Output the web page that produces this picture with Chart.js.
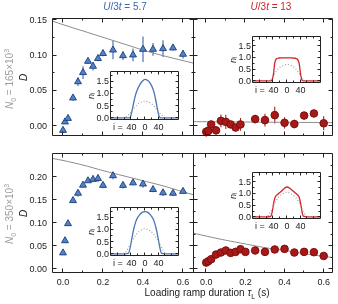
<!DOCTYPE html>
<html>
<head>
<meta charset="utf-8">
<script src="https://cdn.jsdelivr.net/npm/chart.js@4.4.0/dist/chart.umd.min.js"></script>
<style>
body { margin: 0; width: 338px; height: 304px; position: relative; overflow: hidden; background: #fff;
       font-family: "Liberation Sans", Arial, sans-serif; }
canvas { position: absolute; left: 0; top: 0; }
.lbl { position: absolute; white-space: nowrap; font-size: 10px; line-height: 10px; z-index: 5; }
.rot { transform: translate(-50%, -50%) rotate(-90deg); color: #9d9d9d; }
.ctr { transform: translate(-50%, -50%); }
sub, sup { font-size: 7px; line-height: 0; }
</style>
</head>
<body>
<div class="lbl ctr" style="left:125px; top:7px; color:#3b67b0"><i>U</i>/3<i>t</i> = 5.7</div>
<div class="lbl ctr" style="left:271px; top:7px; color:#c8262b"><i>U</i>/3<i>t</i> = 13</div>
<div class="lbl rot" style="left:10px; top:79px"><i>N</i><sub>0</sub> = 165×10<sup>3</sup></div>
<div class="lbl rot" style="left:10px; top:214px"><i>N</i><sub>0</sub> = 350×10<sup>3</sup></div>
<div class="lbl ctr" style="left:207px; top:293px; color:#222">Loading ramp duration <i>τ</i><sub>L</sub> (s)</div>
<script>
// ramp durations (s)
var tauA = [0, 0.01, 0.025, 0.05, 0.075, 0.1, 0.125, 0.15, 0.175, 0.2, 0.25, 0.3, 0.35, 0.4, 0.45, 0.5, 0.55, 0.6];
var tauB = [0, 0.01, 0.025, 0.05, 0.075, 0.1, 0.125, 0.15, 0.175, 0.25, 0.3, 0.35, 0.4, 0.45, 0.5, 0.55, 0.6];

// D, N0 = 165e3
var dLow57 = [-0.006, 0.006, 0.011, 0.040, 0.063, 0.076, 0.092, 0.085, 0.096, 0.103, 0.108, 0.100, 0.101, 0.109, 0.109, 0.110, 0.111, 0.102];
var errLow57 = [0.003, 0.003, 0.003, 0.004, 0.006, 0.009, 0.004, 0.006, 0.004, 0.004, 0.013, 0.006, 0.009, 0.018, 0.009, 0.012, 0.004, 0.006];
var dLow13 = [-0.008, -0.007, 0.0024, -0.006, 0.0075, 0.006, 0.0024, -0.002, 0.0024, 0.010, 0.0085, 0.0156, 0.0047, 0.003, 0.015, 0.018, 0.004];
var errLow13 = [0.007, 0.005, 0.004, 0.006, 0.009, 0.010, 0.004, 0.005, 0.009, 0.006, 0.009, 0.012, 0.008, 0.006, 0.005, 0.004, 0.010];

// D, N0 = 350e3
var dHigh57 = [0.0356, 0.062, 0.099, 0.149, 0.165, 0.1825, 0.192, 0.195, 0.197, 0.182, 0.203, 0.182, 0.1875, 0.185, 0.173, 0.166, 0.165, 0.169];
var errHigh57 = [0.004, 0.005, 0.004, 0.004, 0.007, 0.005, 0.005, 0.006, 0.008, 0.006, 0.008, 0.007, 0.005, 0.008, 0.006, 0.007, 0.006, 0.005];
var dHigh13 = [0.0146, 0.0174, 0.0218, 0.032, 0.0364, 0.0408, 0.0356, 0.0378, 0.0436, 0.0378, 0.0408, 0.0378, 0.043, 0.0443, 0.0364, 0.0378, 0.0371, 0.029];
var errHigh13 = [0.004, 0.003, 0.003, 0.003, 0.003, 0.003, 0.004, 0.003, 0.003, 0.003, 0.003, 0.007, 0.003, 0.003, 0.003, 0.003, 0.003, 0.003];

// theory curves (grey)
var fitTau = [-0.1, 0, 0.1, 0.2, 0.3, 0.4, 0.5, 0.6, 0.7];
var fitLow57 = [0.1535, 0.144, 0.135, 0.126, 0.117, 0.108, 0.100, 0.093, 0.086];
var fitLow13 = [0.0065, 0.0062, 0.0060, 0.0058, 0.0056, 0.0054, 0.0052, 0.0050, 0.0048];
var fitHigh57 = [0.244, 0.236, 0.226, 0.214, 0.203, 0.192, 0.181, 0.168, 0.156];
var fitHigh13 = [0.082, 0.072, 0.063, 0.055, 0.047, 0.041, 0.034, 0.028, 0.023];

// inset density profiles n_i vs site i
var site = [-100, -60, -48, -44, -40, -36, -32, -28, -24, -16, -8, 0, 8, 16, 24, 28, 32, 36, 40, 44, 48, 60, 100];
var nLow57 = [0.02, 0.02, 0.02, 0.03, 0.2, 0.45, 0.72, 0.95, 1.12, 1.36, 1.52, 1.6, 1.55, 1.42, 1.18, 0.98, 0.72, 0.42, 0.15, 0.03, 0.02, 0.02, 0.02];
var nLow57dot = [0, 0.03, 0.15, 0.2, 0.27, 0.34, 0.41, 0.48, 0.54, 0.63, 0.68, 0.7, 0.68, 0.63, 0.54, 0.48, 0.41, 0.34, 0.27, 0.2, 0.15, 0.03, 0];
var nLow13 = [0.02, 0.02, 0.02, 0.05, 0.3, 0.78, 0.95, 0.99, 1.0, 1.01, 1.01, 1.01, 1.01, 1.0, 0.99, 0.97, 0.92, 0.75, 0.3, 0.06, 0.02, 0.02, 0.02];
var nLow13dot = [0, 0.01, 0.08, 0.15, 0.24, 0.33, 0.42, 0.5, 0.56, 0.65, 0.7, 0.72, 0.7, 0.65, 0.56, 0.5, 0.42, 0.33, 0.24, 0.15, 0.08, 0.01, 0];
var nHigh57 = [0.02, 0.02, 0.05, 0.25, 0.55, 0.85, 1.1, 1.3, 1.45, 1.62, 1.72, 1.75, 1.72, 1.62, 1.45, 1.3, 1.1, 0.85, 0.55, 0.25, 0.05, 0.02, 0.02];
var nHigh57dot = [0, 0.05, 0.3, 0.4, 0.5, 0.6, 0.7, 0.78, 0.85, 0.95, 1.02, 1.05, 1.02, 0.95, 0.85, 0.78, 0.7, 0.6, 0.5, 0.4, 0.3, 0.05, 0];
var nHigh13 = [0.02, 0.02, 0.04, 0.2, 0.55, 0.82, 0.93, 0.98, 1.03, 1.13, 1.24, 1.3, 1.25, 1.15, 1.05, 1.0, 0.95, 0.85, 0.6, 0.25, 0.05, 0.02, 0.02];
var nHigh13dot = [0, 0.04, 0.25, 0.38, 0.5, 0.62, 0.72, 0.8, 0.87, 0.97, 1.04, 1.08, 1.04, 0.97, 0.87, 0.8, 0.72, 0.62, 0.5, 0.38, 0.25, 0.04, 0];

// tick values
var tauTicks = [0, 0.1, 0.2, 0.3, 0.4, 0.5, 0.6];
var dTicksLow = [0, 0.025, 0.05, 0.075, 0.1, 0.125, 0.15];
var dTicksHigh = [0, 0.025, 0.05, 0.075, 0.1, 0.125, 0.15, 0.175, 0.2, 0.225];
var siteTicks = [-80, -60, -40, -20, 0, 20, 40, 60, 80];
var nTicks = [0, 0.25, 0.5, 0.75, 1, 1.25, 1.5, 1.75];

var W = 338, H = 304;
Chart.defaults.font.family = '"Liberation Sans", Arial, sans-serif';
Chart.defaults.font.size = 9;
Chart.defaults.color = '#222';

// box with inward ticks on all four sides
var frameTicks = {
    id: 'frameTicks',
    defaults: { bg: null, major: 4, minor: 2 },
    beforeDraw: function (chart, args, opts) {
        if (!opts.bg) return;
        var a = chart.chartArea;
        chart.ctx.fillStyle = opts.bg;
        chart.ctx.fillRect(a.left, a.top, a.right - a.left, a.bottom - a.top);
    },
    afterDatasetsDraw: function (chart, args, opts) {
        var ctx = chart.ctx, a = chart.chartArea;
        var L = Math.round(a.left) - 0.5, R = Math.round(a.right) - 0.5;
        var T = Math.round(a.top) - 0.5, B = Math.round(a.bottom) - 0.5;
        var xs = chart.scales.x, ys = chart.scales.y;
        ctx.save();
        ctx.strokeStyle = '#222';
        ctx.lineWidth = 1;
        ctx.beginPath();
        ctx.rect(L, T, R - L, B - T);
        xs.ticks.forEach(function (t) {
            var p = Math.round(xs.getPixelForValue(t.value)) - 0.5;
            var len = t.label ? opts.major : opts.minor;
            ctx.moveTo(p, B); ctx.lineTo(p, B - len);
            ctx.moveTo(p, T); ctx.lineTo(p, T + len);
        });
        ys.ticks.forEach(function (t) {
            var p = Math.round(ys.getPixelForValue(t.value)) - 0.5;
            var len = t.label ? opts.major : opts.minor;
            ctx.moveTo(L, p); ctx.lineTo(L + len, p);
            ctx.moveTo(R, p); ctx.lineTo(R - len, p);
        });
        ctx.stroke();
        ctx.restore();
    }
};

var errorBars = {
    id: 'errorBars',
    beforeDatasetsDraw: function (chart) {
        var ctx = chart.ctx, ys = chart.scales.y;
        chart.data.datasets.forEach(function (ds, i) {
            if (!ds.errors) return;
            var meta = chart.getDatasetMeta(i);
            ctx.save();
            ctx.strokeStyle = ds.errorColor;
            ctx.lineWidth = 1.1;
            ctx.beginPath();
            meta.data.forEach(function (pt, j) {
                var v = ds.data[j].y, e = ds.errors[j];
                ctx.moveTo(pt.x, ys.getPixelForValue(v - e));
                ctx.lineTo(pt.x, ys.getPixelForValue(v + e));
            });
            ctx.stroke();
            ctx.restore();
        });
    }
};
Chart.register(frameTicks, errorBars);

function addCanvas() {
    var c = document.createElement('canvas');
    c.width = W; c.height = H;
    c.style.width = W + 'px'; c.style.height = H + 'px';
    document.body.appendChild(c);
    return c.getContext('2d');
}

function toPoints(xs, ys) {
    return xs.map(function (x, i) { return { x: x, y: ys[i] }; });
}

function setTicks(vals) {
    return function (s) { s.ticks = vals.map(function (v) { return { value: v }; }); };
}

function panel(box, o) {
    var yW = o.yLabels ? 35 : 0;
    var xH = o.xLabels ? 14 : 0;
    var blue = o.marker === 'triangle';
    return new Chart(addCanvas(), {
        type: 'scatter',
        data: {
            datasets: [
                {
                    type: 'line',
                    data: toPoints(fitTau, o.fit),
                    borderColor: '#8c8c8c',
                    borderWidth: 1,
                    pointRadius: 0,
                    tension: 0.3,
                    fill: false,
                    order: 2
                },
                {
                    data: toPoints(o.tau, o.d),
                    errors: o.err,
                    errorColor: blue ? '#3d64a8' : '#a52222',
                    pointStyle: o.marker,
                    pointRadius: blue ? 4 : 3.8,
                    backgroundColor: blue ? '#5382c8' : '#a81818',
                    borderColor: blue ? '#234884' : '#7d0e0e',
                    borderWidth: 1,
                    order: 1
                }
            ]
        },
        options: {
            responsive: false,
            animation: false,
            devicePixelRatio: 1,
            layout: { padding: { left: box.l - yW, top: box.t, right: W - box.r, bottom: H - box.b - xH } },
            plugins: { legend: { display: false }, tooltip: { enabled: false } },
            scales: {
                x: {
                    type: 'linear', min: o.xmin, max: o.xmax,
                    afterBuildTicks: setTicks(tauTicks),
                    afterFit: function (s) { s.height = xH; },
                    grid: { display: false, drawTicks: false },
                    border: { display: false },
                    ticks: {
                        display: o.xLabels, padding: 4, maxRotation: 0,
                        callback: function (v) { return Math.round(v * 10) % 2 === 0 ? v.toFixed(1) : ''; }
                    }
                },
                y: {
                    min: o.ymin, max: o.ymax,
                    afterBuildTicks: setTicks(o.yTicks),
                    afterFit: function (s) { s.width = yW; },
                    grid: { display: false, drawTicks: false },
                    border: { display: false },
                    title: { display: o.yLabels, text: 'D', padding: 0, font: { size: 10, style: 'italic' } },
                    ticks: {
                        display: o.yLabels, padding: 6,
                        callback: function (v) { return Math.round(v * 1000) % 50 === 0 ? v.toFixed(2) : ''; }
                    }
                }
            }
        }
    });
}

function inset(box, solid, dotted, color) {
    var yW = 25, xH = 11;
    return new Chart(addCanvas(), {
        type: 'line',
        data: {
            datasets: [
                { data: toPoints(site, dotted), borderColor: '#9a9a9a', borderDash: [1, 2], borderWidth: 1.1,
                  pointRadius: 0, cubicInterpolationMode: 'monotone' },
                { data: toPoints(site, solid), borderColor: color, borderWidth: 1.3,
                  pointRadius: 0, cubicInterpolationMode: 'monotone' }
            ]
        },
        options: {
            responsive: false,
            animation: false,
            devicePixelRatio: 1,
            layout: { padding: { left: box.l - yW, top: box.t, right: W - box.r, bottom: H - box.b - xH } },
            plugins: { legend: { display: false }, tooltip: { enabled: false }, frameTicks: { bg: '#fff', major: 3, minor: 2 } },
            scales: {
                x: {
                    type: 'linear', min: -100, max: 100,
                    afterBuildTicks: setTicks(siteTicks),
                    afterFit: function (s) { s.height = xH; },
                    grid: { display: false, drawTicks: false },
                    border: { display: false },
                    ticks: {
                        padding: 2, maxRotation: 0, autoSkip: false,
                        callback: function (v) {
                            if (v === -80) return 'i =';
                            return (v === -40 || v === 0 || v === 40) ? String(Math.abs(v)) : '';
                        }
                    }
                },
                y: {
                    min: -0.07, max: 1.9,
                    afterBuildTicks: setTicks(nTicks),
                    afterFit: function (s) { s.width = yW; },
                    grid: { display: false, drawTicks: false },
                    border: { display: false },
                    title: { display: true, text: 'nᵢ', padding: 0, font: { size: 9, style: 'italic' } },
                    ticks: {
                        padding: 2, autoSkip: false,
                        callback: function (v) { return Math.round(v * 100) % 50 === 0 ? v.toFixed(1) : ''; }
                    }
                }
            }
        }
    });
}

panel({ l: 53, t: 19, r: 194, b: 136 }, { tau: tauA, d: dLow57, err: errLow57, fit: fitLow57, marker: 'triangle',
    xmin: -0.05, xmax: 0.655, ymin: -0.014, ymax: 0.152, yTicks: dTicksLow, yLabels: true, xLabels: false });
panel({ l: 194, t: 19, r: 336, b: 136 }, { tau: tauB, d: dLow13, err: errLow13, fit: fitLow13, marker: 'circle',
    xmin: -0.0625, xmax: 0.6475, ymin: -0.014, ymax: 0.152, yTicks: dTicksLow, yLabels: false, xLabels: false });
panel({ l: 53, t: 154, r: 194, b: 273 }, { tau: tauA, d: dHigh57, err: errHigh57, fit: fitHigh57, marker: 'triangle',
    xmin: -0.05, xmax: 0.655, ymin: -0.008, ymax: 0.25, yTicks: dTicksHigh, yLabels: true, xLabels: true });
panel({ l: 194, t: 154, r: 336, b: 273 }, { tau: tauA, d: dHigh13, err: errHigh13, fit: fitHigh13, marker: 'circle',
    xmin: -0.0625, xmax: 0.6475, ymin: -0.008, ymax: 0.25, yTicks: dTicksHigh, yLabels: false, xLabels: true });

inset({ l: 111, t: 72, r: 179, b: 120 }, nLow57, nLow57dot, '#4a74b8');
inset({ l: 253, t: 37, r: 321, b: 83 }, nLow13, nLow13dot, '#d1242a');
inset({ l: 111, t: 208, r: 179, b: 256 }, nHigh57, nHigh57dot, '#4a74b8');
inset({ l: 253, t: 173, r: 321, b: 219 }, nHigh13, nHigh13dot, '#d1242a');
</script>
</body>
</html>
